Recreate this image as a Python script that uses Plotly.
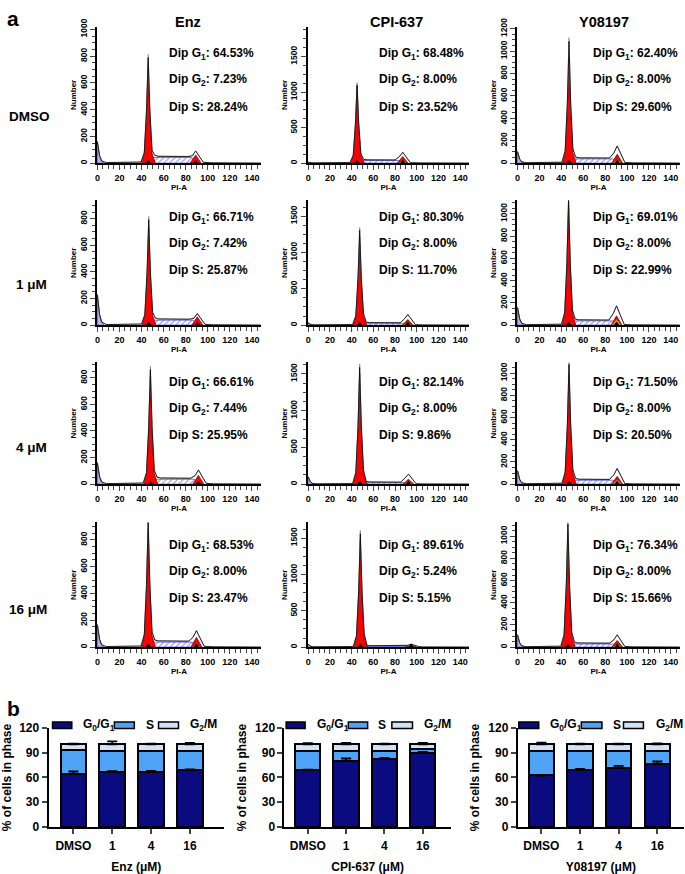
import plotly.graph_objects as go

W, H = 685, 874
FONT = "Liberation Sans, Arial, sans-serif"

# ---------------- data ----------------
drugs = ["Enz", "CPI-637", "Y08197"]
doses = ["DMSO", "1 μM", "4 μM", "16 μM"]

# ModFit "Dip" percentages  [row = dose][col = drug]
dip_g1 = [["64.53", "68.48", "62.40"], ["66.71", "80.30", "69.01"],
          ["66.61", "82.14", "71.50"], ["68.53", "89.61", "76.34"]]
dip_g2 = [["7.23", "8.00", "8.00"], ["7.42", "8.00", "8.00"],
          ["7.44", "8.00", "8.00"], ["8.00", "5.24", "8.00"]]
dip_s = [["28.24", "23.52", "29.60"], ["25.87", "11.70", "22.99"],
         ["25.95", "9.86", "20.50"], ["23.47", "5.15", "15.66"]]

# histogram features (PI-A channel / count)
g1_pos = [[46, 45, 47], [46.5, 47.4, 46.6], [48, 47.4, 47], [46, 48, 46]]
g1_red = [[735, 1075, 941], [739, 1194, 1074], [813, 1500, 1000], [878, 1480, 1030]]
g1_top = [[790, 1100, 1088], [793, 1306, 1125], [862, 1589, 1080], [932, 1560, 1110]]
g2_pos = [[89, 87, 91], [90.5, 91.7, 90.4], [91.5, 92.3, 91], [89.7, 94.8, 91]]
g2_red = [[61, 92, 79], [62, 77, 83], [66, 67, 70], [73, 25, 60]]
g2_top = [[90, 152, 152], [86, 144, 172], [106, 134, 140], [122, 40, 110]]
g2_orange = [[0, 40, 30], [0, 40, 55], [0, 40, 40], [20, 15, 30]]
s_level = [[42, 37, 38], [37, 25, 38], [37, 20, 35], [37, 10, 28]]
debris = [[160, 12, 102], [227, 30, 157], [160, 100, 120], [166, 40, 110]]
y_max = [[1020, 1920, 1219], [937, 1716, 1120], [916, 1656, 1097], [930, 1716, 1124]]
y_dtick = [[200, 500, 200], [200, 500, 200], [200, 500, 200], [200, 500, 200]]
x_ticks = [0, 20, 40, 60, 80, 100, 120, 140]

# bar chart data (% of cells in phase)
bar_cats = ["DMSO", "1", "4", "16"]
bar_titles = ["Enz (μM)", "CPI-637 (μM)", "Y08197 (μM)"]
enz_g1 = [64.5, 66.7, 66.6, 68.5]
enz_s = [28.2, 25.9, 25.9, 23.5]
enz_g2 = [7.3, 7.4, 7.5, 8.0]
enz_g1_err = [2.8, 0.8, 1.2, 1.2]
enz_tot_err = [0.8, 3.8, 1.0, 1.8]
cpi_g1 = [68.5, 80.3, 82.1, 89.6]
cpi_s = [23.5, 11.7, 9.9, 5.2]
cpi_g2 = [8.0, 8.0, 8.0, 5.2]
cpi_g1_err = [1.0, 2.8, 1.5, 1.2]
cpi_tot_err = [1.5, 1.8, 0.8, 1.8]
y08_g1 = [62.4, 69.0, 71.5, 76.3]
y08_s = [29.6, 23.0, 20.5, 15.7]
y08_g2 = [8.0, 8.0, 8.0, 8.0]
y08_g1_err = [0.8, 1.5, 2.5, 3.0]
y08_tot_err = [2.2, 1.0, 0.8, 1.2]
phase_names = ["G<sub>0</sub>/G<sub>1</sub>", "S", "G<sub>2</sub>/M"]

# ---------------- styling / layout constants ----------------
RED = "#ff0000"
ORANGE = "#f0a020"
LAV = "#b4b4ee"
HATCH = "#3c3cc8"
C_G1 = "#0b0b80"
C_S = "#4fa3f7"
C_G2 = "#cfe2f6"

col_x = [(95, 260), (306.4, 468.8), (516.4, 680)]
row_y = [(18, 157), (195, 322), (360, 484), (523, 650)]
X_RANGE = [-0.6, 148.4]
text_x = [165, 376, 590.7]
text_y = [[46, 72.5, 99.5], [213, 239.3, 266], [381, 407, 433.5], [547.3, 573.3, 600]]

bar_x = [(46.7, 222.7), (283.3, 450), (517.3, 684)]
bar_xr = [[-0.64, 3.88], [-0.61, 3.73], [-0.61, 3.69]]
bar_y = (732.3, 833.3)


def px(x):
    return x / W


def py(y):
    return 1 - y / H


fig = go.Figure()
layout = {}
annotations = []
shapes = []


def names(i):
    s = "" if i == 1 else str(i)
    return "x" + s, "y" + s, "xaxis" + s, "yaxis" + s


def tf(size):
    return dict(family=FONT, size=size, color="black", weight="bold")


idx = 0
for r in range(4):
    for c in range(3):
        idx += 1
        xn, yn, xa, ya = names(idx)
        g1, g2 = g1_pos[r][c], g2_pos[r][c]
        h1, t1 = g1_red[r][c], g1_top[r][c]
        h2, t2 = g2_red[r][c], g2_top[r][c]
        s, d = s_level[r][c], debris[r][c]
        o = g2_orange[r][c]

        # S-phase (hatched)
        fig.add_trace(go.Scatter(
            x=[g1 - 3, g1 + 4, g2 - 4, g2 + 2, g1 - 3],
            y=[0, s, s, 0, 0], mode="lines", fill="toself",
            fillcolor="white", line=dict(color=HATCH, width=0.7),
            fillpattern=dict(shape="/", fgcolor=HATCH, bgcolor="white", size=4, solidity=0.3),
            xaxis=xn, yaxis=yn, showlegend=False, hoverinfo="skip"))
        # debris
        fig.add_trace(go.Scatter(
            x=[0, 0, 0.8, 2, 3.5, 6, 0], y=[0, d, d * 0.7, d * 0.3, d * 0.1, 0, 0],
            mode="lines", fill="toself", fillcolor=LAV,
            line=dict(color="#5050a0", width=0.7),
            xaxis=xn, yaxis=yn, showlegend=False, hoverinfo="skip"))
        # G1 peak
        fig.add_trace(go.Scatter(
            x=[g1 - 6, g1 - 3.5, g1 - 1.5, g1, g1 + 1.5, g1 + 3.5, g1 + 6.5, g1 - 6],
            y=[0, h1 * 0.1, h1 * 0.5, h1, h1 * 0.5, h1 * 0.1, 0, 0],
            mode="lines", fill="toself", fillcolor=RED,
            line=dict(color="#600000", width=0.7),
            xaxis=xn, yaxis=yn, showlegend=False, hoverinfo="skip"))
        # G2 peak
        fig.add_trace(go.Scatter(
            x=[g2 - 5, g2 - 2, g2, g2 + 2, g2 + 5, g2 - 5],
            y=[0, h2 * 0.6, h2, h2 * 0.6, 0, 0],
            mode="lines", fill="toself", fillcolor=RED,
            line=dict(color="#600000", width=0.7),
            xaxis=xn, yaxis=yn, showlegend=False, hoverinfo="skip"))
        if o > 0:
            fig.add_trace(go.Scatter(
                x=[g2 - 4.5, g2, g2 + 4.5, g2 - 4.5], y=[0, o, 0, 0],
                mode="lines", fill="toself", fillcolor=ORANGE,
                line=dict(color="#604000", width=0.6),
                xaxis=xn, yaxis=yn, showlegend=False, hoverinfo="skip"))
        # outlines (data + fit)
        ox = [0, 0.5, 2, 4, 8, g1 - 6.5, g1 - 3.5, g1 - 1.5, g1, g1 + 1.5, g1 + 3.5, g1 + 6,
              g1 + 9, g2 - 7, g2 - 3, g2, g2 + 3, g2 + 7, 105, 148]
        oy = [d, d * 0.8, d * 0.35, d * 0.1, 4, 8, t1 * 0.1, t1 * 0.5, t1, t1 * 0.5,
              t1 * 0.12, s + 16, s + 9, s + 7, t2 * 0.6, t2, t2 * 0.6, 6, 2, 0]
        fig.add_trace(go.Scatter(
            x=ox, y=[v * 1.03 for v in oy], mode="lines",
            line=dict(color="#909090", width=0.8),
            xaxis=xn, yaxis=yn, showlegend=False, hoverinfo="skip"))
        fig.add_trace(go.Scatter(
            x=ox, y=oy, mode="lines", line=dict(color="black", width=0.8),
            xaxis=xn, yaxis=yn, showlegend=False, hoverinfo="skip"))
        # peak markers
        fig.add_trace(go.Scatter(
            x=[g1, g2], y=[0, 0], mode="markers", cliponaxis=False,
            marker=dict(symbol="triangle-up", size=7, color="black"),
            xaxis=xn, yaxis=yn, showlegend=False, hoverinfo="skip"))

        x0, x1 = col_x[c]
        yt, yb = row_y[r]
        layout[xa] = dict(
            domain=[px(x0), px(x1)], anchor=yn, range=X_RANGE,
            tickvals=x_ticks, ticks="outside", ticklen=5, tickwidth=1.2,
            minor=dict(dtick=5, ticks="outside", ticklen=4, tickwidth=1),
            showline=True, linecolor="black", linewidth=1.5, showgrid=False,
            zeroline=False, tickfont=tf(9),
            title=dict(text="PI-A", font=tf(8), standoff=1))
        layout[ya] = dict(
            domain=[py(yb), py(yt)], anchor=xn, range=[0, y_max[r][c]],
            dtick=y_dtick[r][c], tick0=0, ticks="outside", ticklen=5, tickwidth=1.2,
            minor=dict(dtick=y_dtick[r][c] / 4, ticks="outside", ticklen=3, tickwidth=1),
            showline=True, linecolor="black", linewidth=1.5, showgrid=False,
            zeroline=False, tickangle=-90, tickfont=tf(8.5),
            title=dict(text="Number", font=tf(8), standoff=1))

        lines = ["Dip G<sub>1</sub>: %s%%" % dip_g1[r][c],
                 "Dip G<sub>2</sub>: %s%%" % dip_g2[r][c],
                 "Dip S: %s%%" % dip_s[r][c]]
        for k, t in enumerate(lines):
            annotations.append(dict(
                text="<b>%s</b>" % t, x=px(text_x[c]), y=py(text_y[r][k]),
                xref="paper", yref="paper", xanchor="left", yanchor="middle",
                showarrow=False, font=dict(family=FONT, size=12, color="black")))

# ---------------- bar charts ----------------
bar_sets = [
    (enz_g1, enz_s, enz_g2, enz_g1_err, enz_tot_err),
    (cpi_g1, cpi_s, cpi_g2, cpi_g1_err, cpi_tot_err),
    (y08_g1, y08_s, y08_g2, y08_g1_err, y08_tot_err),
]
xpos = list(range(len(bar_cats)))
for c, (g1v, sv, g2v, e1, et) in enumerate(bar_sets):
    idx += 1
    xn, yn, xa, ya = names(idx)
    for vals, col, nm in [(g1v, C_G1, phase_names[0]), (sv, C_S, phase_names[1]),
                          (g2v, C_G2, phase_names[2])]:
        fig.add_trace(go.Bar(
            x=xpos, y=vals, width=0.66, name=nm, marker=dict(color=col, line=dict(color="black", width=2)),
            xaxis=xn, yaxis=yn, showlegend=False, hoverinfo="skip"))
    tot = [a + b + cc for a, b, cc in zip(g1v, sv, g2v)]
    for base, err in [(g1v, e1), (tot, et)]:
        fig.add_trace(go.Scatter(
            x=xpos, y=base, mode="markers", marker=dict(size=1, opacity=0),
            error_y=dict(type="data", symmetric=False, array=err, arrayminus=[0] * len(err),
                         color="black", thickness=1.8, width=5),
            xaxis=xn, yaxis=yn, showlegend=False, hoverinfo="skip"))
    x0, x1 = bar_x[c]
    layout[xa] = dict(
        domain=[px(x0), px(x1)], anchor=yn, range=bar_xr[c],
        tickvals=xpos, ticktext=bar_cats, ticks="outside", ticklen=5, tickwidth=2,
        ticklabelstandoff=2,
        showline=True, linecolor="black", linewidth=2, showgrid=False, zeroline=False,
        tickfont=tf(12), title=dict(text=bar_titles[c], font=tf(12), standoff=10))
    layout[ya] = dict(
        domain=[py(bar_y[1]), py(bar_y[0])], anchor=xn, range=[0, 120],
        tickvals=[0, 30, 60, 90, 120], ticks="outside", ticklen=5, tickwidth=2,
        showline=True, linecolor="black", linewidth=2, showgrid=False, zeroline=False,
        tickfont=tf(12), title=dict(text="% of cells in phase", font=tf(12), standoff=6))

# legends for bar charts (swatches + labels)
leg_boxes = [[(50.7, 70), (112.7, 132.7), (157, 177)],
             [(285, 304), (347.3, 366.7), (391, 411.7)],
             [(518.3, 538.3), (581, 601.7), (623.3, 643.3)]]
leg_text = [[79, 142, 186.7], [314, 375.5, 421], [547.7, 611, 654.3]]
sw_cols = [C_G1, C_S, C_G2]
for c in range(3):
    for k in range(3):
        a, b = leg_boxes[c][k]
        shapes.append(dict(type="rect", xref="paper", yref="paper",
                           x0=px(a), x1=px(b), y0=py(733), y1=py(726.3),
                           fillcolor=sw_cols[k], line=dict(color="black", width=1.5)))
        annotations.append(dict(
            text="<b>%s</b>" % phase_names[k], x=px(leg_text[c][k]), y=py(729.5),
            xref="paper", yref="paper", xanchor="left", yanchor="middle",
            showarrow=False, font=dict(family=FONT, size=12, color="black")))

# titles / labels
col_title_x = [187, 396, 604]
for c in range(3):
    annotations.append(dict(text="<b>%s</b>" % drugs[c], x=px(col_title_x[c]), y=py(13),
                            xref="paper", yref="paper", xanchor="center", yanchor="middle",
                            showarrow=False, font=dict(family=FONT, size=14.5, color="black")))
row_lab = [(5, 110), (12, 281), (12, 447), (5, 612)]
for r in range(4):
    annotations.append(dict(text="<b>%s</b>" % doses[r], x=px(row_lab[r][0]), y=py(row_lab[r][1]),
                            xref="paper", yref="paper", xanchor="left", yanchor="middle",
                            showarrow=False, font=dict(family=FONT, size=13.5, color="black")))
for lab, yy in [("a", 10), ("b", 713)]:
    annotations.append(dict(text="<b>%s</b>" % lab, x=px(3), y=py(yy),
                            xref="paper", yref="paper", xanchor="left", yanchor="middle",
                            showarrow=False, font=dict(family=FONT, size=21, color="black")))

fig.update_layout(
    width=W, height=H, margin=dict(l=0, r=0, t=0, b=0),
    paper_bgcolor="white", plot_bgcolor="white", barmode="stack",
    annotations=annotations, shapes=shapes, showlegend=False,
    font=dict(family=FONT, color="black"), **layout)

fig.write_html("out.html", config={"displayModeBar": False},
               post_script="document.body.style.margin='0px';document.body.style.padding='0px';")
